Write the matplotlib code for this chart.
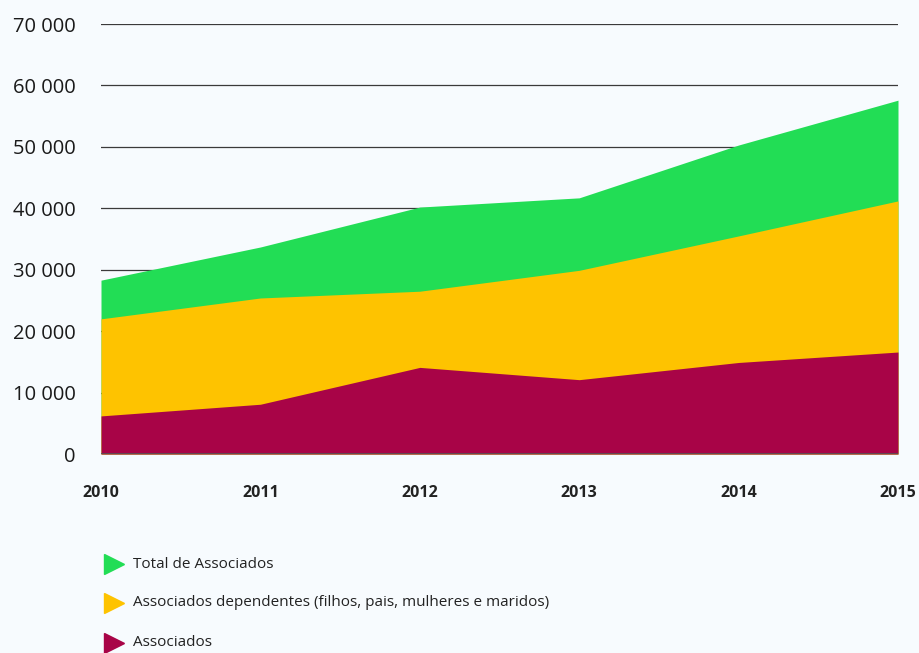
import matplotlib.pyplot as plt
from matplotlib.lines import Line2D
from matplotlib.ticker import FuncFormatter

plt.rcParams['font.family'] = ['Open Sans', 'DejaVu Sans']

# Associados por ano
anos = [2010, 2011, 2012, 2013, 2014, 2015]
total = [28300, 33700, 40200, 41700, 50300, 57600]
dependentes = [22000, 25400, 26500, 29900, 35500, 41200]
associados = [6200, 8100, 14100, 12100, 14900, 16600]

labels = ['Total de Associados',
          'Associados dependentes (filhos, pais, mulheres e maridos)',
          'Associados']
colors = ['#22dd55', '#fec300', '#a80447']
bg = '#f7fbfe'

fig = plt.figure(figsize=(9.2, 6.53), dpi=100, facecolor=bg)
ax = fig.add_axes([101 / 920, 1 - 454 / 653, 797 / 920, 430 / 653])
ax.set_facecolor(bg)

# areas overlap from zero, largest first
for serie, c in zip([total, dependentes, associados], colors):
    ax.fill_between(anos, 0, serie, color=c, linewidth=0, zorder=2)

ax.set_xlim(2010, 2015)
ax.set_ylim(0, 70000)
ax.set_yticks(range(0, 70001, 10000))
ax.set_xticks(anos)
ax.yaxis.set_major_formatter(FuncFormatter(lambda v, p: f'{int(v):,}'.replace(',', ' ')))
ax.grid(axis='y', color='#3a3a3a', linewidth=0.9, zorder=1)
ax.set_axisbelow(True)
for s in ax.spines.values():
    s.set_visible(False)
ax.axhline(0, color='#555555', linewidth=1.2, zorder=3)

ax.tick_params(axis='y', length=0, pad=18, labelsize=14.5, labelcolor='#1a1a1a')
ax.tick_params(axis='x', length=0, pad=22, labelsize=11.5, labelcolor='#222222')
for t in ax.get_xticklabels():
    t.set_fontweight('bold')

# legend
rows = [564, 603, 643]
for lab, c, yp in zip(labels, colors, rows):
    y = 1 - yp / 653
    fig.add_artist(Line2D([114 / 920], [y], marker='>', markersize=15, color=c,
                          linestyle='none', transform=fig.transFigure))
    fig.text(133 / 920, y, lab, fontsize=11, color='#222222', va='center', ha='left')

fig.savefig('out.png', dpi=100, facecolor=bg)
